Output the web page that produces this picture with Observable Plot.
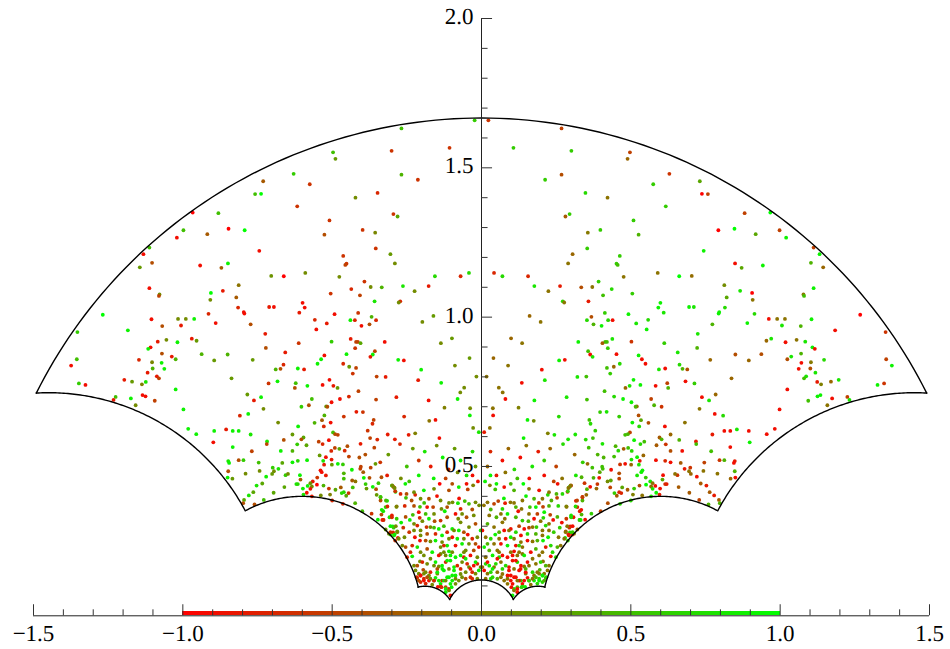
<!DOCTYPE html>
<html><head><meta charset="utf-8">
<script src="https://cdn.jsdelivr.net/npm/d3@7"></script>
<script src="https://cdn.jsdelivr.net/npm/@observablehq/plot@0.6"></script>
<style>html,body{margin:0;padding:0;background:#fff}svg{display:block;background:#fff;text-rendering:geometricPrecision}</style>
</head><body><div id="chart"></div>
<script>
// [x, y, value] read from the left half; the picture's right half repeats it with x and value negated.
const topBand = [
[-.731,1.455,-.3],[-.758,1.412,.5],[-.738,1.413,1],[-.967,1.35,-1],[-.881,1.348,.5],[-.847,1.296,-1],[-.793,1.291,1],[-.998,1.291,.5],
[-.023,1.659,.6],[-.268,1.632,.5],[-.107,1.567,-.6],[-.301,1.557,-.6],[-.497,1.552,.5],[-.489,1.53,.2],[-.629,1.48,.6],[-.268,1.477,.4],[-.213,1.46,-.6],[-.575,1.445,-.6],[-.348,1.416,-.7],[-.422,1.4,.1],[-.617,1.371,-.6],[-.295,1.345,-.6],[-.281,1.337,.3],[-.509,1.324,-.6],[-.398,1.292,-.6]
];
const leftWing = [
[-1.02,1.266,-.9],[-.918,1.278,-.3],[-1.112,1.233,.5],[-1.132,1.211,-.9],[-1.103,1.182,-.4],[-1.144,1.167,.2],[-.942,1.173,-.9],[-.871,1.165,-.3],[-.849,1.18,.9],[-1.112,1.097,-.9],[-1.078,1.076,.1],[-1.08,1.071,-.5],[-.813,1.107,-.1],[-.906,1.081,1],[-.866,1.088,-.8],[-.908,1.058,.1],[-.821,1.066,-.3],[-.815,1.032,-.7],[-.796,1.017,-.9],[-.794,1.012,-.9],[-1.268,1.008,1],[-1.353,.95,.6],[-1.184,.956,.9],[-1.105,.993,-.9],[-1.016,.994,.1],[-.99,.994,.1],[-.962,.994,.9],[-.914,1.011,-.7],[-.89,.98,-.9],[-1.006,.972,-.8],[-1.069,.97,-.4],[-1.084,.918,-.8],[-1.055,.924,.1],[-1.018,.916,.9],[-.97,.928,-.8],[-.954,.921,.2],[-1.108,.899,-.9],[-1.116,.894,.9],[-1.07,.878,-.4],[-1.037,.868,-.8],[-1.024,.859,.4],[-.937,.876,.4],[-.85,.875,.4],[-.895,.855,.2],[-1.147,.857,-.7],[-1.103,.849,.05],[-1.071,.847,.9],[-1.355,.859,.5],[-1.374,.838,-.9],[-1.101,.828,.4],[-1.062,.827,.9],[-1.118,.814,-.8],[-1.087,.802,-.8],[-1.08,.795,-.5],[-1.196,.79,-.8],[-1.17,.784,.2],[-1.124,.783,.8],[-1.137,.775,0],[-.837,.795,.2],[-1.348,.778,.6],[-1.326,.773,-.9],[-1.024,.758,.9],[-.784,.741,.2],[-1.225,.733,.5],[-1.232,.723,-.8],[-1.174,.728,.9],[-1.135,.739,-.9],[-1.125,.735,-.9],[-1.094,.72,-.5],[-1.158,.705,.1],[-.998,.691,.9],[-.781,.676,.9],[-.809,.67,-.7],[-.773,.976,-.4]
];
const midUpper = [
[-.526,1.276,-.4],[-.744,1.222,-.9],[-.463,1.205,-.6],[-.452,1.179,-.6],[-.456,1.175,-.5],[-.704,1.138,.15],[-.662,1.137,-1],[-.59,1.148,.1],[-.476,1.135,.1],[-.436,1.094,-.7],[-.505,1.079,-.6],[-.407,1.073,-.5],[-.599,1.048,-.9],[-.592,1.032,-.9],[-.711,1.034,-.8],[-.695,1.034,-.9],[-.61,1.015,-.8],[-.492,1.01,-.9],[-.413,1.014,-.6],[-.558,.991,-.7],[-.518,.979,-.8],[-.439,.99,.9],[-.424,.99,-.7],[-.553,.959,-.9],[-.724,.944,-.8],[-.438,.927,-.8],[-.502,.918,.6],[-.42,.917,-.5],[-.414,.917,-.5],[-.612,.913,-.6],
[-.356,1.283,.05],[-.354,1.23,-.6],[-.305,1.211,.2],[-.29,1.18,.1],[-.156,1.137,.7],[-.07,1.137,-.7],[-.042,1.148,.7],[-.392,1.119,-.6],[-.371,1.101,.1],[-.334,1.1,.4],[-.263,1.104,.8],[-.177,1.104,-.8],[-.224,1.087,.1],[-.272,1.053,-.7],[-.277,1.049,.1],[-.358,1.053,.8],[-.368,1.001,.4],[-.353,.99,-.7],[-.375,.976,-.4],[-.402,.971,-.9],[-.198,.984,.1],[-.161,1.004,.2],[-.099,.929,.2],[-.136,.913,.1],[-.324,.917,-.9],[-.405,.913,.3]
];
const midCentre = [
[-.423,.896,-.6],[-.357,.886,-.5],[-.526,.872,-.9],[-.364,.875,.9],[-.372,.867,-.8],[-.452,.876,.9],[-.537,.859,.9],[-.04,.863,.2],[-.279,.857,.9],[-.26,.855,-.9],[-.549,.844,.9],[-.463,.844,-.7],[-.443,.834,.2],[-.42,.83,-.5],[-.089,.838,.1],[-.594,.825,-.8],[-.202,.824,.9],[-.431,.811,-.6],[-.351,.801,-.5],[-.321,.8,-.8],[-.017,.801,.1],[-.509,.79,-.9],[-.212,.789,-.8],[-.135,.78,.9],[-.532,.773,-.9],[-.583,.77,.9],[-.496,.77,-.8],[-.482,.763,.2],[-.058,.764,.1],[-.412,.752,-.5],[-.071,.748,.1],[-.444,.734,-.7],[-.285,.732,-.8],[-.568,.726,.5],[-.474,.726,-.9],[-.353,.724,-.5],[-.08,.726,.9],[-.177,.721,-.9],[-.502,.715,-.9],[-.578,.705,-.4],[-.52,.701,.2],[-.516,.7,-.4],[-.603,.7,.6],[-.124,.697,0],[-.038,.695,.1],[-.419,.683,-.8],[-.397,.682,-.6],[-.461,.667,-.6],[-.526,.671,.4],[-.259,.667,-.7],[-.039,.671,.9],[-.534,.655,-.3],[-.361,.656,-.5],[-.175,.653,-.1],[-.154,.656,-.9],[-.559,.646,.4],[-.505,.647,-.9],[-.365,.643,-.7],[-.528,.634,-.7],[-.028,.629,.1],[-.381,.62,-.6],[-.497,.614,.5],[-.49,.608,-.4],[-.481,.606,-.5],[-.009,.615,.8],[-.222,.611,0],[-.314,.607,-.8],[-.244,.606,-.8],[-.29,.591,-.8],[-.373,.595,-.5],[-.349,.59,-.7],[-.141,.595,-.9],[-.596,.597,.3],[-.511,.588,-.9]
];
const lowerWing = [
[-.766,.857,.2],[-.722,.897,-.4],[-.657,.882,-.8],[-.663,.841,-.7],[-.689,.825,.4],[-.673,.827,-.4],[-.615,.828,.9],[-.683,.785,.9],[-.713,.778,-.6],[-.622,.779,.5],[-.625,.763,-.4],[-.738,.732,.9],[-.762,.721,-.8],[-.73,.693,.1],[-.681,.647,.1],[-.614,.634,.9],[-.982,.626,.9],[-.955,.608,.9],[-.895,.619,.9],[-.855,.624,-.8],[-.833,.619,.9],[-.813,.619,.9],[-.773,.607,.8],[-.633,.607,.2],[-.898,.581,-.9],[-.718,.584,.8],[-.719,.575,-.5],[-.662,.589,-.4],[-.617,.574,.6],[-.833,.565,.9],[-.769,.551,-.5],[-.672,.552,.9],[-.633,.552,.4],[-.848,.518,.8],[-.845,.512,.9],[-.813,.521,-.4],[-.797,.521,.6],[-.746,.513,.5],[-.667,.512,.3],[-.633,.514,.9],[-.615,.519,.7],[-.848,.484,-.4],[-.79,.476,.1],[-.743,.485,.1],[-.699,.496,.6],[-.68,.492,.8],[-.695,.484,.1],[-.701,.475,.2],[-.656,.471,.6],[-.648,.475,.1],[-.608,.471,.9],[-.85,.463,.9],[-.834,.459,.2],[-.721,.466,.9],[-.606,.456,-.3],[-.734,.443,.3],[-.753,.436,.8],[-.66,.431,.3],[-.62,.441,.8],[-.615,.441,.7],[-.764,.414,.3],[-.779,.403,.8],[-.696,.412,.3],[-.729,.388,.5],[-.795,.388,.3],[-.798,.377,-.4],[-.76,.373,-.4]
];
const innerBand = [
[-.565,.45,-.8],[-.573,.444,.1],[-.582,.435,.9],[-.568,.433,.1],[-.573,.425,-.8],[-.598,.426,.9],[-.585,.412,-.9],[-.596,.406,.8],[-.568,.4,-.8],[-.538,.403,.1],[-.55,.463,-.6],[-.539,.487,-.9],[-.535,.481,-.9],[-.521,.47,-.8],[-.551,.439,-1],[-.529,.436,.4],[-.511,.426,-.6],[-.489,.422,.3],[-.471,.43,-.3],[-.461,.414,.7],[-.468,.411,.7],[-.453,.402,.3],[-.445,.411,-.6],[-.507,.406,0],[-.5,.386,-.7],[-.464,.375,-.7],[-.423,.377,.4],[-.399,.35,.5],[-.368,.342,-.6],[-.347,.322,.9],[-.328,.321,-.6],[-.332,.321,-.9],[-.461,.477,.4],[-.461,.459,.5],[-.434,.489,.9],[-.433,.453,-.3],[-.422,.45,-.1],[-.431,.43,.5],[-.396,.481,-.3],[-.375,.462,-.4],[-.394,.462,.9],[-.388,.441,.6],[-.385,.426,.2],[-.364,.432,.9],[-.353,.424,-.4],[-.345,.444,.6],[-.351,.405,.2],[-.338,.398,.7],[-.338,.386,-.4],[-.316,.385,.8],[-.321,.364,.7],[-.334,.355,.9],[-.329,.35,.8],[-.335,.339,-.4],[-.308,.33,.8],[-.3,.336,-.8],[-.3,.33,-.7],[-.285,.365,.2],[-.288,.415,.8],[-.296,.433,-.5],[-.3,.436,.8],[-.292,.429,-.4],[-.316,.47,-.8],[-.335,.464,-.4],[-.284,.325,.6],[-.305,.3,.9],[-.297,.299,.9],[-.294,.295,.6],[-.282,.283,.3],[-.296,.279,-.7],[-.305,.272,.8],[-.291,.272,.9],[-.31,.275,.1],[-.28,.261,-.8],[-.321,.289,.2],[-.289,.252,-.6],
[-.603,.591,-.4],[-.545,.583,-.5],[-.532,.575,-.7],[-.586,.571,.3],[-.491,.562,-.5],[-.476,.559,.3],[-.449,.568,-.4],[-.458,.553,-.7],[-.503,.552,-.7],[-.405,.576,-.8],[-.359,.563,-.5],[-.312,.54,.2],[-.273,.575,-.7],[-.389,.54,-.4],[-.409,.53,-.4],[-.444,.533,-.5],[-.521,.531,-.9],[-.542,.537,.2],[-.502,.523,-.8],[-.53,.519,.8],[-.527,.506,-.8],[-.501,.506,.2],[-.481,.509,.9],[-.464,.507,.6],[-.355,.509,.2],[-.339,.514,-.6],[-.404,.499,-.5],[-.406,.492,-.5],[-.371,.496,-.5],[-.584,.521,.9]
];
const centreGap = [
[-.23,.56,.2],[-.21,.52,-.6],[-.19,.55,.8],[-.17,.5,-.8],[-.15,.57,.1],[-.13,.53,.9],[-.11,.49,-.7],[-.09,.56,.2],[-.07,.52,.9],[-.05,.47,.8],[-.03,.55,.7],[-.02,.5,.2],[-.25,.5,.5],[-.27,.46,.1],[-.21,.47,.9],[-.16,.46,.9],[-.12,.46,-.5],[-.08,.48,.1],[-.03,.47,-.9]
];
const denseUpper = [
[-.255,.442,.9],[-.242,.45,.5],[-.251,.408,-.4],[-.234,.386,-.4],[-.222,.405,-.7],[-.14,.442,-1],[-.05,.442,-.9],[-.028,.437,0],[-.046,.423,-.5],[-.012,.45,-.9],[-.257,.368,-.7],[-.253,.395,.5],[-.226,.368,-.4],[-.149,.401,-.9],[-.075,.393,-.9],[-.097,.38,.1],[-.109,.378,.1],[-.134,.358,.1],[-.192,.378,.5],[-.206,.365,.5],[-.182,.364,-.9],[-.162,.364,-.5],[-.123,.35,.9],[-.056,.384,.5],[-.079,.377,.8],[-.031,.356,-.4],[-.008,.37,.1],[-.23,.338,.5],[-.24,.321,.9],[-.254,.331,-.4],[-.269,.312,.9],[-.262,.295,-.6],[-.258,.263,.1],[-.242,.28,-.6],[-.207,.328,-.7],[-.198,.317,.1],[-.176,.325,.9],[-.157,.317,-.4],[-.137,.319,-.6],[-.184,.297,-.6],[-.204,.286,.1],[-.226,.286,.1],[-.223,.263,-.9],[-.206,.252,-.9],[-.159,.295,.5],[-.126,.3,.5],[-.098,.291,.9],[-.07,.313,.1],[-.078,.325,.1],[-.05,.33,-.4],[-.026,.336,.1],[-.059,.28,-.4],[-.046,.272,-.9],[-.003,.286,.9],[-.031,.258,-.7],[-.092,.286,.1]
];
const denseLower = [
[-.187,.252,-.4],[-.171,.249,.1],[-.154,.252,.9],[-.132,.247,.1],[-.115,.235,.9],[-.098,.263,-.9],[-.087,.235,-.9],[-.065,.241,.9],[-.042,.241,.1],[-.02,.241,-.4],[-.238,.213,-.7],[-.232,.199,.9],[-.206,.182,.1],[-.193,.202,.1],[-.165,.213,.9],[-.126,.213,.1],[-.109,.216,.9],[-.087,.196,.9],[-.07,.202,.9],[-.037,.202,-.9],[-.059,.196,-.7],[-.014,.196,.1],[-.154,.18,.9],[-.12,.18,-.7],[-.104,.185,.9],[-.048,.174,-.7],[-.026,.168,-.9],[-.003,.163,.1],[-.143,.165,.1],[-.182,.174,.1],[-.195,.154,-.4],[-.221,.152,.1],[-.21,.141,.1],[-.193,.124,-.7],[-.171,.146,-.7],[-.148,.141,.1],[-.126,.152,.9],[-.092,.152,.9],[-.07,.157,-.7],[-.053,.146,.1],[-.02,.141,.1],[-.009,.152,.9],[-.215,.127,-.4],[-.204,.113,-.7],[-.176,.118,-.9],[-.154,.127,.9],[-.132,.118,-.7],[-.109,.129,.9],[-.087,.135,.9],[-.065,.129,.1],[-.037,.129,-.7],[-.187,.108,-.7],[-.165,.104,.1],[-.137,.107,.9],[-.109,.09,-.9],[-.087,.107,.1],[-.12,.079,.9],[-.1,.096,.9],[-.12,.096,-.4],[-.104,.068,-.9],[-.146,.097,-.9],[-.134,.096,-.7],
[-.126,.118,.9],[-.115,.129,.9],[-.104,.107,.9],[-.12,.09,.9],[-.109,.085,.1],[-.137,.098,-.7],[-.087,.124,.1],[-.098,.135,.9],[-.07,.14,.1],[-.159,.118,.1],[-.176,.135,.1],[-.193,.118,-.9],[-.204,.135,-.7],[-.187,.146,.1],[-.148,.146,.9],[-.131,.157,.9],[-.115,.185,.9],[-.137,.207,.1],[-.104,.202,.9],[-.053,.191,.9],[-.042,.163,.1],[-.031,.146,-.7],[-.059,.213,.1],[-.014,.174,-.7],[-.092,.163,.9],[-.126,.235,-.7],[-.159,.168,.1]
];
const denseExtra = [
[-.284,.366,0],[-.32,.386,.5],[-.315,.366,-.7],[-.287,.3,.1],[-.282,.28,.1],[-.329,.321,-.7],[-.299,.437,.1],[-.289,.417,-.6],[-.271,.408,-.7],[-.338,.397,.5],[-.291,.428,.1],[-.305,.28,-.6],[-.277,.258,.1],[-.293,.269,.8],[-.265,.235,.1],[-.254,.23,-.4],[-.249,.196,-.7],[-.232,.235,-.7],[-.215,.23,.8],[-.226,.168,.1],[-.217,.129,-.7],[-.21,.118,-.4],[-.204,.135,-.9],[-.193,.141,.1],[-.182,.129,-.4],[-.171,.124,.1],[-.159,.118,-.7],[-.143,.118,.9],[-.12,.118,.1],[-.098,.118,.9],[-.076,.118,.1],[-.053,.124,-.4],[-.031,.124,-.7],[-.014,.124,.1],[-.148,.157,-.4],[-.132,.168,.9],[-.109,.157,.1],[-.081,.168,-.7],[-.065,.18,.1],[-.037,.157,-.9],[-.02,.18,.9],[-.215,.168,-.4],[-.198,.18,-.7],[-.171,.191,.1],[-.143,.202,-.9],[-.12,.202,.1],[-.098,.213,.1],[-.053,.219,.1],[-.026,.219,-.4],[-.009,.23,-.9],[-.204,.213,.1],[-.182,.224,-.4],[-.137,.23,.1],[-.081,.258,.9],[-.059,.258,.1],[-.014,.263,.1],[-.109,.258,.1],[-.132,.269,.9],[-.154,.274,-.7],[-.182,.274,-.4],[-.204,.269,.1],[-.226,.308,.1],[-.215,.302,-.7],[-.171,.297,.1],[-.143,.291,.9],[-.115,.28,-.7],[-.076,.286,.9],[-.042,.297,.1],[-.02,.308,-.4],[-.115,.33,-.4],[-.087,.341,-.9],[-.065,.341,.1],[-.159,.341,.1],[-.187,.341,.5],[-.21,.347,-.9],[-.115,.364,-.4],[-.07,.358,-.7],[-.042,.375,.5],[-.02,.38,.1],[-.137,.386,.1],[-.176,.392,-.4],[-.204,.392,.1],[-.226,.414,.1],[-.193,.42,.9],[-.109,.42,-.4],[-.076,.431,.9],[-.159,.425,.1],[-.098,.442,-.4]
];
const leftPoints = [...topBand,...leftWing,...midUpper,...midCentre,...lowerWing,...innerBand,...centreGap,...denseUpper,...denseLower,...denseExtra];
const points = [...leftPoints, ...leftPoints.map(([x,y,v])=>[-x,y,-v])];

const xMajor=[-1.5,-1,-.5,0,.5,1,1.5];
const xMinor=[-1.4,-1.3,-1.2,-1.1,-.9,-.8,-.7,-.6,-.4,-.3,-.2,-.1,.1,.2,.3,.4,.6,.7,.8,.9,1.1,1.2,1.3,1.4];
const yMajor=[.5,1,1.5,2];
const yMinor=[.1,.2,.3,.4,.6,.7,.8,.9,1.1,1.2,1.3,1.4,1.6,1.7,1.8,1.9];
const xLabels=["−1.5","−1.0","−0.5","0.0","0.5","1.0","1.5"];
const yLabels=["0.5","1.0","1.5","2.0"];
const barStops=d3.range(-1,1,0.01);
// boundary circles: centre on the x axis, radius, end points
const circles=[
 {cx:0,r:5/3,from:[-1.4907,.7454],to:[1.4907,.7454]},
 {cx:-1.45,r:.747,from:[-1.4907,.7454],to:[-.788,.353]},
 {cx:-.6,r:.4,from:[-.788,.353],to:[-.213,.0958]},
 {cx:-.189,r:.099,from:[-.213,.0958],to:[-.106,.0543]},
 {cx:0,r:.12,from:[-.106,.0543],to:[.106,.0543]},
 {cx:.189,r:.099,from:[.106,.0543],to:[.213,.0958]},
 {cx:.6,r:.4,from:[.213,.0958],to:[.788,.353]},
 {cx:1.45,r:.747,from:[.788,.353],to:[1.4907,.7454]}
];
const arcPts=circles.flatMap((c,i)=>{
 const a0=Math.atan2(c.from[1],c.from[0]-c.cx),a1=Math.atan2(c.to[1],c.to[0]-c.cx);
 return d3.range(0,1.0001,1/120).map(t=>{const a=a0+(a1-a0)*t;return {arc:i,x:c.cx+c.r*Math.cos(a),y:c.r*Math.sin(a)};});
});
const font='"Liberation Serif","Times New Roman",serif';
const plot=Plot.plot({
 width:950,height:649,marginLeft:33,marginRight:21,marginTop:18,marginBottom:33.7,
 x:{domain:[-1.5,1.5],axis:null},y:{domain:[0,2],axis:null},
 color:{type:"linear",domain:[-1,1],range:["#ff0000","#00ff00"],interpolate:"rgb"},
 marks:[
  Plot.rect(barStops,{x1:d=>d,x2:d=>d+0.012,y1:0,y2:.015,fill:d=>d,shapeRendering:"crispEdges"}),
  Plot.dot(points,{x:d=>d[0],y:d=>d[1],fill:d=>d[2],r:1.9,stroke:"none"}),
  Plot.line(arcPts,{x:"x",y:"y",z:"arc",stroke:"#000",strokeWidth:1.4}),
  Plot.ruleY([0],{x1:-1.5,x2:1.5,stroke:"#222",strokeWidth:1}),
  Plot.ruleX([0],{y1:0,y2:2,stroke:"#222",strokeWidth:1}),
  Plot.ruleX(xMajor,{y1:0,y2:.037,stroke:"#333",strokeWidth:1}),
  Plot.ruleX(xMinor,{y1:0,y2:.02,stroke:"#333",strokeWidth:1}),
  Plot.ruleY(yMajor,{x1:0,x2:.037,stroke:"#333",strokeWidth:1}),
  Plot.ruleY(yMinor,{x1:0,x2:.022,stroke:"#333",strokeWidth:1}),
  Plot.text(xMajor,{x:d=>d,y:0,text:(d,i)=>xLabels[i],dy:18,fontSize:23,fontFamily:font,fill:"#000",lineAnchor:"middle"}),
  Plot.text(yMajor,{x:0,y:d=>d,text:(d,i)=>yLabels[i],dx:-8,dy:-2,textAnchor:"end",fontSize:23,fontFamily:font,fill:"#000",lineAnchor:"middle"})
 ]
});
plot.style.background="#fff";
document.getElementById("chart").append(plot);
</script></body></html>
